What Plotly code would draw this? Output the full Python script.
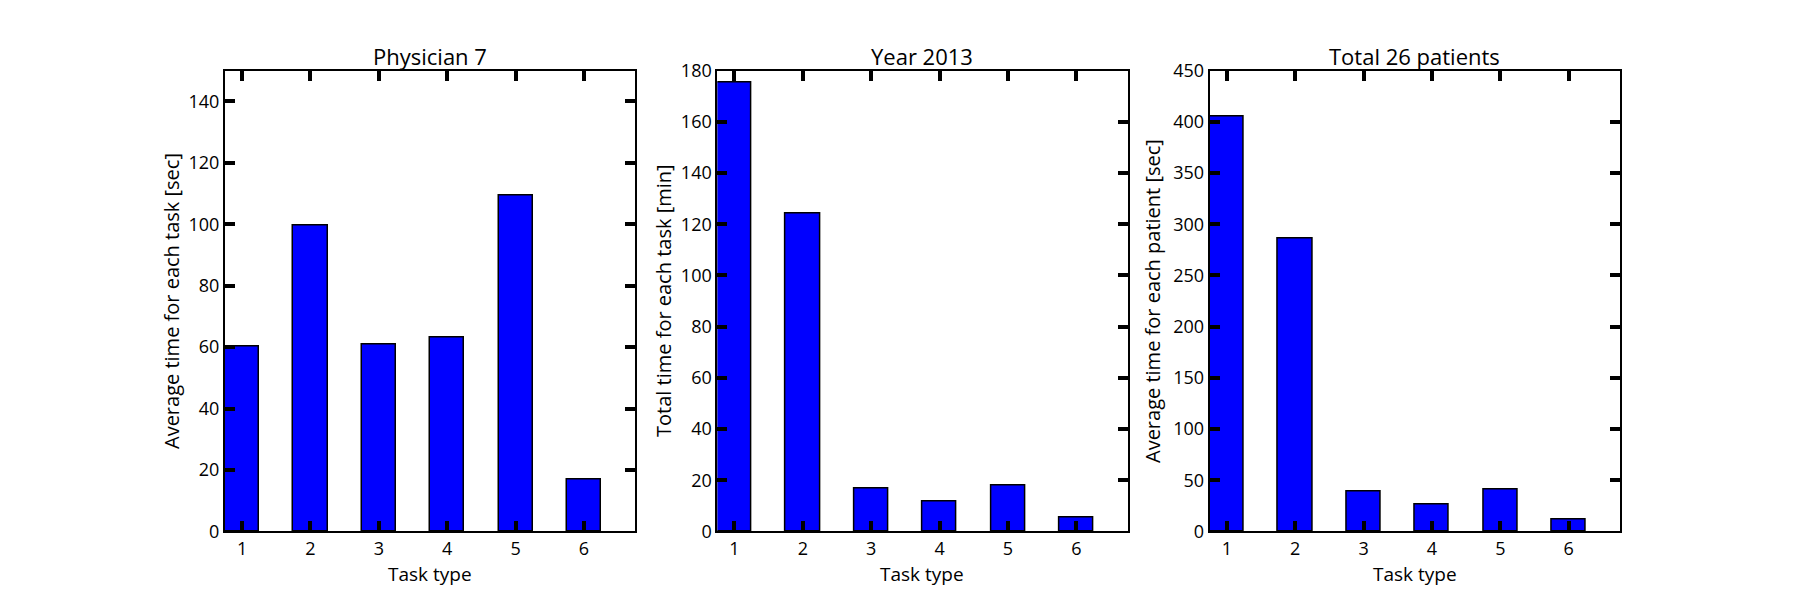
import plotly.graph_objects as go

tasks = [1, 2, 3, 4, 5, 6]
physician7_avg_sec = [60.0, 99.4, 60.7, 63.1, 109.2, 17.0]
year2013_total_min = [175.2, 124.0, 16.6, 11.8, 17.8, 5.4]
patients26_avg_sec = [405.0, 286.0, 38.5, 26.5, 40.8, 11.8]

titles = ["Physician 7", "Year 2013", "Total 26 patients"]
ylabels = ["Average time for each task [sec]",
           "Total time for each task [min]",
           "Average time for each patient [sec]"]
xlabel = "Task type"
yranges = [[0, 150], [0, 180], [0, 450]]
ydticks = [20, 20, 50]
series = [physician7_avg_sec, year2013_total_min, patients26_avg_sec]

W, H = 1800, 600
FONT = "Open Sans"
xdomains = [[0.125, 0.35294], [0.39853, 0.62647], [0.67206, 0.9]]
ydomain = [0.1, 0.9]
ytitle_x = [171, 663, 1152]

fig = go.Figure()
annotations = []
for i in range(3):
    sfx = "" if i == 0 else str(i + 1)
    fig.add_trace(go.Bar(
        x=tasks, y=series[i], width=0.5,
        marker=dict(color="#0000ff", line=dict(color="black", width=1.5)),
        xaxis="x" + sfx, yaxis="y" + sfx, showlegend=False,
    ))
    axis_common = dict(
        showline=True, linecolor="black", linewidth=2, mirror="allticks",
        ticks="inside", ticklen=10, tickwidth=3.5, tickcolor="black",
        showgrid=False, zeroline=False,
        tickfont=dict(family=FONT, size=18, color="black"),
    )
    fig.update_layout(**{
        "xaxis" + sfx: dict(domain=xdomains[i], range=[0.75, 6.75],
                            tickmode="array", tickvals=tasks,
                            ticktext=[str(t) for t in tasks],
                            anchor="y" + sfx, **axis_common),
        "yaxis" + sfx: dict(domain=ydomain, range=yranges[i],
                            tickmode="linear", tick0=0, dtick=ydticks[i],
                            anchor="x" + sfx, **axis_common),
    })
    xc = (xdomains[i][0] + xdomains[i][1]) / 2
    annotations.append(dict(text=titles[i], x=xc, y=1 - 45 / 600,
                            xref="paper", yref="paper", showarrow=False,
                            xanchor="center", yanchor="middle",
                            font=dict(family=FONT, size=22, color="black")))
    annotations.append(dict(text=xlabel, x=xc, y=1 - 584 / 600,
                            xref="paper", yref="paper", showarrow=False,
                            xanchor="center", yanchor="middle",
                            font=dict(family=FONT, size=19, color="black")))
    annotations.append(dict(text=ylabels[i], x=ytitle_x[i] / W, y=0.5,
                            xref="paper", yref="paper", showarrow=False,
                            xanchor="center", yanchor="middle", textangle=-90,
                            font=dict(family=FONT, size=20, color="black")))

fig.update_layout(
    width=W, height=H,
    margin=dict(l=0, r=0, t=0, b=0),
    paper_bgcolor="white", plot_bgcolor="white",
    annotations=annotations,
    bargap=0,
)
fig.write_html("out.html")
